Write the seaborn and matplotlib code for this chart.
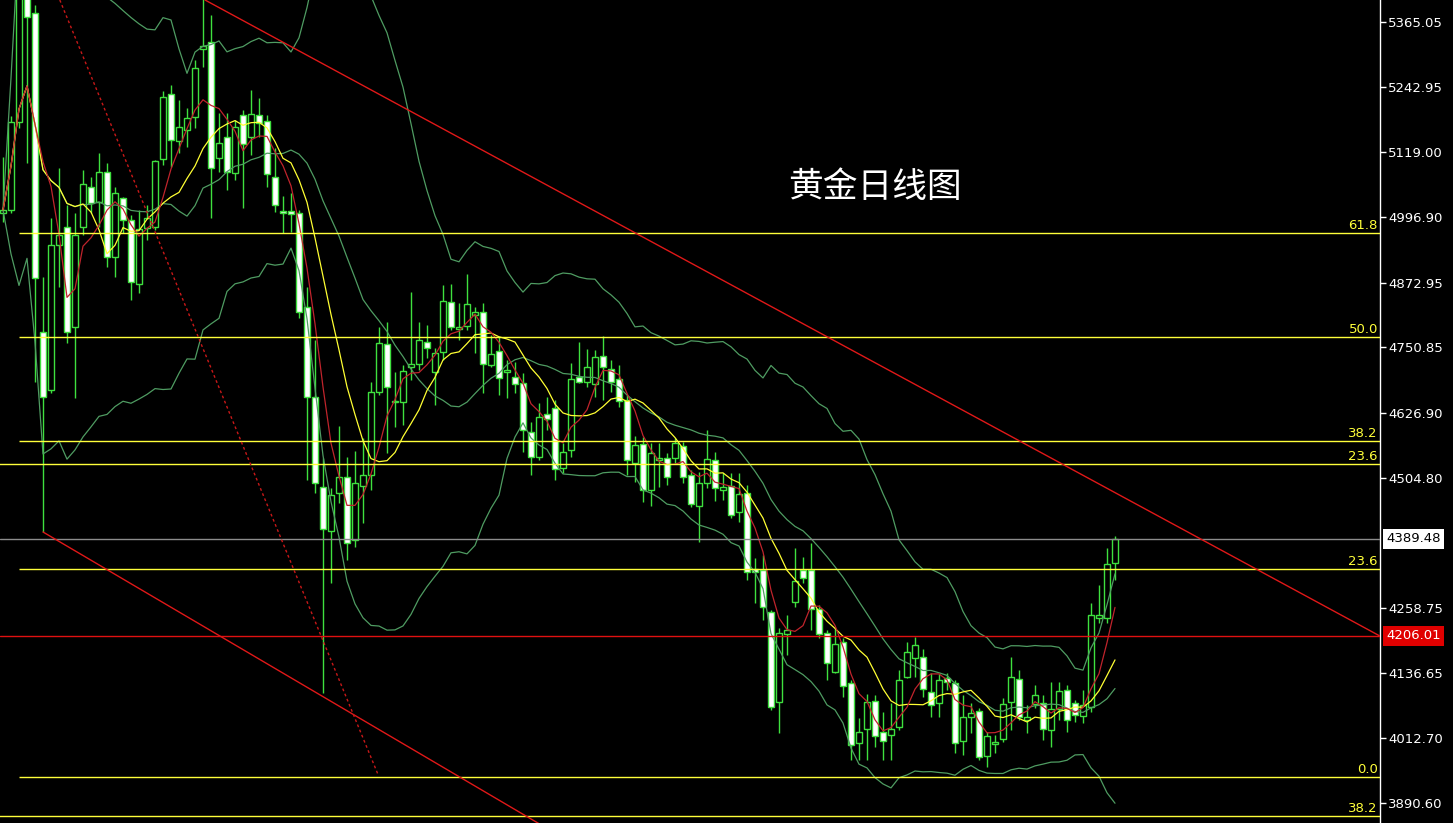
import numpy as np
import pandas as pd
import matplotlib
matplotlib.use("Agg")
import matplotlib.pyplot as plt
import seaborn as sns

# daily gold candles (price)
opens = [5004.5, 5010.2, 5176.3, 5416.0, 5382.1, 4779.9, 4670.4, 4944.1, 4978.1, 4789.3,
         4978.1, 5053.6, 5025.3, 5081.9, 4921.5, 5032.8, 4991.3, 4870.5, 4976.2, 4978.1,
         5106.5, 5229.2, 5140.4, 5161.2, 5185.7, 5314.1, 5327.3, 5108.3, 5148.0, 5080.0,
         5189.5, 5148.0, 5189.5, 5178.2, 5072.5, 5008.3, 5008.3, 5004.5, 4827.1, 4657.2,
         4487.3, 4404.3, 4476.0, 4506.2, 4387.2, 4489.2, 4509.9, 4666.6, 4757.2, 4647.7,
         4647.7, 4713.8, 4719.5, 4761.0, 4704.4, 4742.1, 4836.5, 4785.5, 4791.2, 4812.0,
         4817.6, 4717.6, 4744.0, 4704.4, 4694.9, 4683.6, 4591.1, 4543.9, 4625.1, 4636.4,
         4523.2, 4557.1, 4694.9, 4685.5, 4681.7, 4734.6, 4710.0, 4691.2, 4651.5, 4532.6,
         4568.4, 4481.6, 4538.3, 4542.0, 4542.0, 4564.7, 4509.9, 4451.4, 4494.8, 4538.3,
         4481.6, 4489.2, 4440.1, 4476.0, 4332.6, 4330.7, 4251.6, 4082.0, 4210.1, 4270.5,
         4330.7, 4330.7, 4257.3, 4212.0, 4138.5, 4195.1, 4117.8, 4004.6, 4031.1, 4083.8,
         4025.4, 4019.8, 4034.9, 4129.1, 4164.9, 4166.8, 4100.8, 4080.1, 4127.2, 4117.8,
         4008.4, 4053.7, 4065.0, 3980.1, 4002.7, 4012.2, 4082.0, 4125.3, 4048.1, 4078.2,
         4080.1, 4029.2, 4068.8, 4104.6, 4080.1, 4055.6, 4072.5, 4240.3, 4240.3, 4343.9]
highs = [5110.2, 5187.6, 5425.5, 5425.5, 5397.2, 4883.7, 4995.1, 5089.5, 5019.6, 5004.5,
         5085.7, 5072.5, 5117.8, 5098.9, 5053.6, 5034.7, 5000.7, 5010.2, 5019.6, 5104.6,
         5234.8, 5246.1, 5217.8, 5202.7, 5293.3, 5425.5, 5378.3, 5193.3, 5193.3, 5180.1,
         5198.9, 5236.7, 5221.6, 5189.5, 5127.2, 5036.6, 5042.3, 5010.2, 4864.8, 4764.8,
         4542.0, 4485.4, 4602.5, 4543.9, 4555.2, 4579.8, 4685.5, 4789.3, 4798.8, 4704.4,
         4717.6, 4855.4, 4798.8, 4793.1, 4749.7, 4868.6, 4870.5, 4834.6, 4889.4, 4827.1,
         4834.6, 4774.2, 4770.5, 4727.0, 4723.2, 4702.5, 4610.0, 4645.8, 4657.2, 4651.5,
         4570.3, 4721.4, 4761.0, 4747.8, 4745.9, 4772.3, 4727.0, 4717.6, 4660.9, 4583.6,
         4581.7, 4570.3, 4570.3, 4551.5, 4579.8, 4572.2, 4519.4, 4515.6, 4594.9, 4553.4,
         4513.7, 4513.7, 4513.7, 4491.1, 4353.3, 4358.9, 4255.4, 4221.5, 4246.0, 4372.2,
         4355.2, 4381.6, 4264.8, 4217.7, 4221.5, 4202.6, 4123.4, 4051.8, 4097.0, 4095.2,
         4063.1, 4080.1, 4142.3, 4195.1, 4204.5, 4181.9, 4136.6, 4134.7, 4136.6, 4123.4,
         4095.2, 4080.1, 4070.7, 4025.4, 4019.8, 4089.5, 4166.8, 4142.3, 4076.3, 4114.0,
         4095.2, 4119.6, 4119.6, 4114.0, 4085.7, 4104.6, 4268.6, 4302.4, 4372.2, 4394.8]
lows = [4987.5, 5004.5, 5165.0, 5098.9, 4685.5, 4402.3, 4664.7, 4864.8, 4759.1, 4655.3,
        4963.0, 5004.5, 4978.1, 4902.6, 4883.7, 4966.8, 4840.3, 4853.5, 4953.6, 4972.4,
        5095.1, 5091.4, 5117.8, 5129.1, 5165.0, 5280.1, 4995.1, 5081.9, 5047.9, 5066.8,
        5014.0, 5114.0, 5148.0, 5053.6, 5006.4, 4966.8, 4968.7, 4806.3, 4500.5, 4476.0,
        4098.9, 4306.2, 4457.1, 4349.5, 4374.0, 4419.4, 4481.6, 4660.9, 4551.5, 4600.6,
        4604.3, 4689.3, 4708.1, 4730.8, 4642.1, 4727.0, 4783.7, 4764.8, 4783.7, 4740.2,
        4664.7, 4713.8, 4660.9, 4655.3, 4664.7, 4553.4, 4509.9, 4538.3, 4594.9, 4500.5,
        4513.7, 4543.9, 4683.6, 4676.1, 4657.2, 4651.5, 4666.6, 4638.3, 4509.9, 4496.7,
        4459.0, 4451.4, 4487.3, 4491.1, 4532.6, 4494.8, 4449.5, 4383.5, 4485.4, 4460.9,
        4462.8, 4428.8, 4421.2, 4311.8, 4268.6, 4236.6, 4066.9, 4023.5, 4170.6, 4261.0,
        4306.2, 4217.7, 4202.6, 4123.4, 4136.6, 4091.4, 3972.6, 3972.6, 3972.6, 3997.1,
        3972.6, 3972.6, 4029.2, 4127.2, 4129.1, 4091.4, 4053.7, 4053.7, 4104.6, 3985.8,
        3982.0, 4023.5, 3972.6, 3959.4, 3985.8, 4006.5, 4029.2, 4048.1, 4023.5, 4070.7,
        4010.3, 3997.1, 4048.1, 4025.4, 4044.3, 4042.4, 4063.1, 4230.9, 4230.9, 4311.8]
closes = [5010.2, 5176.3, 5416.0, 5374.5, 4881.8, 4657.2, 4944.1, 4963.0, 4779.9, 4963.0,
          5059.3, 5023.4, 5081.9, 4921.5, 5042.3, 4991.3, 4874.3, 4974.3, 4995.1, 5102.7,
          5223.5, 5142.3, 5166.9, 5183.8, 5278.2, 5319.8, 5089.5, 5136.7, 5081.9, 5166.9,
          5134.8, 5191.4, 5174.4, 5078.1, 5019.6, 5004.5, 5002.6, 4817.6, 4657.2, 4494.8,
          4408.0, 4472.2, 4506.2, 4381.6, 4494.8, 4509.9, 4666.6, 4759.1, 4676.1, 4649.6,
          4706.3, 4719.5, 4764.8, 4749.7, 4740.2, 4838.4, 4789.3, 4789.3, 4832.7, 4817.6,
          4719.5, 4738.3, 4693.0, 4708.1, 4681.7, 4594.9, 4543.9, 4619.4, 4615.7, 4521.3,
          4553.4, 4691.2, 4685.5, 4713.8, 4732.7, 4713.8, 4685.5, 4649.6, 4538.3, 4566.6,
          4481.6, 4551.5, 4542.0, 4506.2, 4570.3, 4506.2, 4455.2, 4494.8, 4540.1, 4485.4,
          4487.3, 4434.4, 4474.1, 4326.9, 4326.9, 4261.0, 4072.5, 4212.0, 4217.7, 4309.9,
          4315.6, 4257.3, 4210.1, 4155.5, 4191.3, 4112.1, 4000.9, 4025.4, 4082.0, 4017.9,
          4008.4, 4031.1, 4123.4, 4176.2, 4189.4, 4106.5, 4076.3, 4123.4, 4119.6, 4004.6,
          4053.7, 4061.2, 3978.2, 4017.9, 4006.5, 4078.2, 4129.1, 4053.7, 4053.7, 4095.2,
          4031.1, 4068.8, 4102.7, 4048.1, 4057.5, 4076.3, 4246.0, 4246.0, 4342.0, 4389.48]

# price axis labels
axis_ticks = [5365.05, 5242.95, 5119.00, 4996.90, 4872.95, 4750.85, 4626.90,
              4504.80, 4258.75, 4136.65, 4012.70, 3890.60]
last_price = 4389.48
red_level = 4206.01

# fibonacci levels: label, price, start index
fib_labels = ["61.8", "50.0", "38.2", "23.6", "23.6", "0.0", "38.2"]
fib_prices = [4966.8, 4770.5, 4574.1, 4530.7, 4332.6, 3939.8, 3866.2]
fib_start = [2, 2, 2, -1, 2, 2, -1]

# trend lines: (index, price) pairs
upper_trend = [(25.25, 5406.6), (172.1, 4206.0)]
lower_trend = [(5, 4402.3), (70, 3825.0)]
dotted_trend = [(7.1, 5406.6), (46.9, 3943.6)]

df = pd.DataFrame({"open": opens, "high": highs, "low": lows, "close": closes})
df["i"] = np.arange(len(df))
df["ma5"] = df["close"].rolling(5, min_periods=1).mean()
df["ma10"] = df["close"].rolling(10, min_periods=1).mean()
df["mid"] = df["close"].rolling(20, min_periods=1).mean()
sd = df["close"].rolling(20, min_periods=1).std(ddof=0).fillna(0)
df["upper"] = df["mid"] + 2 * sd
df["lower"] = df["mid"] - 2 * sd

sns.set_theme(style="dark", rc={"axes.facecolor": "black", "figure.facecolor": "black"})

W, H = 1453, 823
fig = plt.figure(figsize=(W / 100, H / 100), dpi=100)
ax = fig.add_axes([0, 0, 1380 / W, 1])
ax.set_facecolor("black")

green = "#3ee03e"
band = "#4f9c62"

# candles
up = df["close"] >= df["open"]
ax.vlines(df["i"], df["low"], df["high"], color=green, lw=1.0, zorder=2)
body_lo = np.minimum(df["open"], df["close"])
body_h = (df["close"] - df["open"]).abs().clip(lower=1.5)
ax.bar(df["i"], body_h, bottom=body_lo, width=0.66,
       color=np.where(up, "black", "white"), edgecolor=green, linewidth=1.0, zorder=3)

# moving averages + bollinger
for col, c in [("upper", band), ("mid", band), ("lower", band), ("ma10", "#ffff33"), ("ma5", "#c0242c")]:
    sns.lineplot(data=df, x="i", y=col, ax=ax, color=c, lw=0.9, zorder=4)

# fibonacci lines
for lab, p, s in zip(fib_labels, fib_prices, fib_start):
    ax.hlines(p, s, 172.2, color="#ffff3a", lw=1.0, zorder=5)
    ax.annotate(lab, xy=(1, p), xycoords=("axes fraction", "data"), xytext=(-1.5, 0.5),
                textcoords="offset points", ha="right", va="bottom", color="#ffff3a", fontsize=9.5)

ax.axhline(last_price, color="#8c8c8c", lw=1.0, zorder=5)
ax.axhline(red_level, color="#e01010", lw=1.0, zorder=5)

for pts, ls, c in [(upper_trend, "-", "#e01818"), (lower_trend, "-", "#e01818"), (dotted_trend, (0, (2, 2)), "#c81818")]:
    xs, ys = zip(*pts)
    ax.plot(xs, ys, color=c, lw=1.0, ls=ls, zorder=5)

ax.text(0.634, 0.772, "黄金日线图", transform=ax.transAxes, color="white", fontsize=25,
        ha="center", va="center", family=["Noto Sans CJK SC", "DejaVu Sans"])

ax.set_xlim(-0.375, 172.125)
ax.set_ylim(3852.9, 5406.6)
ax.set_xticks([])
ax.set_xlabel("")
ax.set_ylabel("")
ax.yaxis.tick_right()
ax.set_yticks(axis_ticks)
ax.set_yticklabels([f"{v:.2f}" for v in axis_ticks])
ax.tick_params(axis="y", colors="white", length=4, width=1, pad=2, labelsize=9.5, right=True, left=False)
ax.grid(False)
for side in ["top", "left", "bottom"]:
    ax.spines[side].set_visible(False)
ax.spines["right"].set_color("white")
ax.spines["right"].set_linewidth(1.0)

tr = ax.get_yaxis_transform()
ax.text(1.0045, last_price, f"{last_price:.2f}", transform=tr, ha="left", va="center", color="black",
        fontsize=9.5, bbox=dict(boxstyle="square,pad=0.25", fc="white", ec="none"), clip_on=False, zorder=6)
ax.text(1.0045, red_level, f"{red_level:.2f}", transform=tr, ha="left", va="center", color="white",
        fontsize=9.5, bbox=dict(boxstyle="square,pad=0.25", fc="#e00000", ec="none"), clip_on=False, zorder=6)

fig.savefig("out.png", dpi=100, facecolor="black")
